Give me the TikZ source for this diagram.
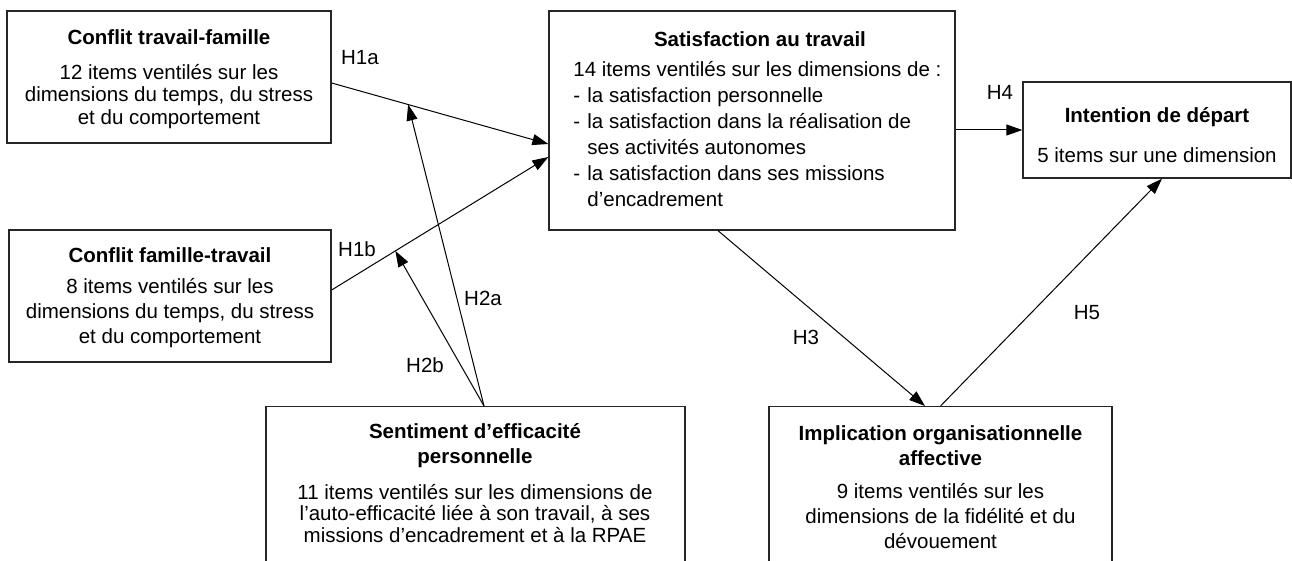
\documentclass[tikz,border=0pt]{standalone}
\usepackage{fontspec}
\setmainfont{Liberation Sans}
\usetikzlibrary{positioning, arrows.meta}

\begin{document}
\begin{tikzpicture}[x=0.5pt, y=-0.5pt,
  box/.style={draw=black!85, line width=0.65pt, inner sep=0pt},
  ttl/.style={inner sep=0pt, align=center, font=\fontsize{10.25}{12.5}\selectfont\bfseries},
  txt/.style={inner sep=0pt, align=center, font=\fontsize{10.25}{11.25}\selectfont},
  lab/.style={inner sep=0pt, font=\fontsize{10.25}{12}\selectfont},
  arr/.style={line width=0.5pt, -{Triangle[length=8pt, width=5.5pt]}}]

\useasboundingbox (0,0) rectangle (1292,561);
\clip (0,0) rectangle (1292,561);

% boxes, centres in px (y down); bottom row runs off the page
\node[box, minimum width=162pt, minimum height=66pt] (ctf) at (169,77) {};
\node[box, minimum width=161pt, minimum height=66pt] (cft) at (170,296) {};
\node[box, minimum width=203pt, minimum height=109.5pt] (sat) at (752,120.5) {};
\node[box, minimum width=134pt, minimum height=48pt] (dep) at (1157,130) {};
\node[box, minimum width=209.5pt, minimum height=100pt, anchor=north] (sep) at (475.5,406) {};
\node[box, minimum width=171.5pt, minimum height=100pt, anchor=north] (imp) at (940.5,406) {};

% texts
\node[ttl] (ctf-t) at (169,37) {Conflit travail-famille};
\node[txt] (ctf-b) at (169,96.5) {12 items ventilés sur les\\dimensions du temps, du stress\\et du comportement};
\node[ttl] (cft-t) at (170,255) {Conflit famille-travail};
\node[txt, font=\fontsize{10.25}{12.5}\selectfont] (cft-b) at (170,313)
  {8 items ventilés sur les\\dimensions du temps, du stress\\et du comportement};
\node[ttl] (sat-t) at (760,39) {Satisfaction au travail};
\node[txt, align=left, anchor=west, font=\fontsize{10.25}{13}\selectfont] (sat-b) at (573,134)
  {14 items ventilés sur les dimensions de :\\
   \makebox[7pt][l]{-}la satisfaction personnelle\\
   \makebox[7pt][l]{-}la satisfaction dans la réalisation de\\
   \hspace*{7pt}ses activités autonomes\\
   \makebox[7pt][l]{-}la satisfaction dans ses missions\\
   \hspace*{7pt}d’encadrement};
\node[ttl] (dep-t) at (1157,117) {Intention de départ};
\node[txt] (dep-b) at (1157,155) {5 items sur une dimension};
\node[ttl] (sep-t) at (475,445.5) {Sentiment d’efficacité\\personnelle};
\node[txt, font=\fontsize{10.25}{10.85}\selectfont] (sep-b) at (475,513.3)
  {11 items ventilés sur les dimensions de\\l’auto-efficacité liée à son travail, à ses\\missions d’encadrement et à la RPAE};
\node[ttl] (imp-t) at (940.5,445.5) {Implication organisationnelle\\affective};
\node[txt, font=\fontsize{10.25}{12.5}\selectfont] (imp-b) at (940.5,516)
  {9 items ventilés sur les\\dimensions de la fidélité et du\\dévouement};

% hypotheses
\node[lab] (h1a) at (360,58) {H1a};
\node[lab] (h1b) at (357,249) {H1b};
\node[lab] (h2a) at (483,298) {H2a};
\node[lab] (h2b) at (425,365) {H2b};
\node[lab] (h3) at (806,337) {H3};
\node[lab] (h4) at (1000,92) {H4};
\node[lab] (h5) at (1087,313) {H5};

% links
\draw[arr] ([yshift=-3pt]ctf.east) -- coordinate[pos=0.353] (h1a-m) ([yshift=-11.75pt]sat.west);
\draw[arr] ([yshift=3pt]cft.east) -- coordinate[pos=0.294] (h1b-m) ([yshift=-18.25pt]sat.west);
\coordinate (sep-top) at ([xshift=4.25pt]sep.north);
\draw[arr] (sep-top) -- (h1a-m);
\draw[arr] (sep-top) -- (h1b-m);
\draw[arr] ([xshift=-17pt]sat.south) -- ([xshift=-7.75pt]imp.north);
\draw[arr] (sat.east |- dep.west) -- (dep.west);
\draw[arr] (imp.north) -- ([xshift=2.5pt]dep.south);
\end{tikzpicture}
\end{document}
